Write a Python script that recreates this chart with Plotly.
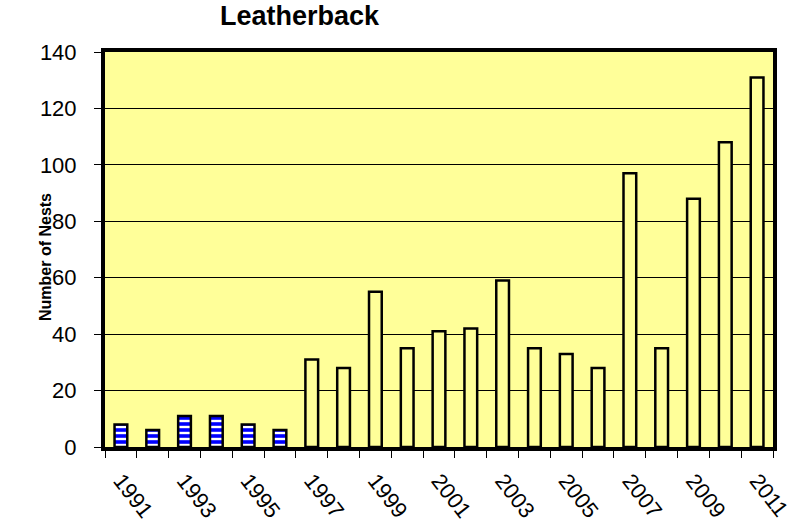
import plotly.graph_objects as go

years = list(range(1991, 2012))
nests = [8, 6, 11, 11, 8, 6, 31, 28, 55, 35, 41, 42, 59, 35, 33, 28, 97, 35, 88, 108, 131]
striped_years = years[:6]
plain_years = years[6:]
striped_vals = nests[:6]
plain_vals = nests[6:]
label_years = list(range(1991, 2012, 2))
y_ticks = [0, 20, 40, 60, 80, 100, 120, 140]

FONT = "Arial, Liberation Sans, sans-serif"

fig = go.Figure()
fig.add_trace(go.Bar(
    x=striped_years, y=striped_vals, width=0.4,
    marker=dict(color="#0000ff", line=dict(color="black", width=2.5),
                pattern=dict(shape="-", fillmode="overlay", fgcolor="#ffffff", fgopacity=1,
                             size=6, solidity=0.4)),
    showlegend=False,
))
fig.add_trace(go.Bar(
    x=plain_years, y=plain_vals, width=0.4,
    marker=dict(color="#ffff99", line=dict(color="black", width=2.5)),
    showlegend=False,
))

fig.update_layout(
    width=797, height=528,
    margin=dict(l=105, r=24, t=52, b=81),
    paper_bgcolor="white", plot_bgcolor="#ffff99",
    font=dict(family=FONT, color="black"),
)
fig.add_annotation(text="<b>Leatherback</b>", x=(300 - 105) / 668, y=1.0, xref="paper", yref="paper",
                   xanchor="center", yanchor="bottom", yshift=19, showarrow=False,
                   font=dict(size=27, family=FONT))
fig.add_annotation(text="<b>Number of Nests</b>", x=(45 - 105) / 668, y=(447 - 257) / 395,
                   xref="paper", yref="paper", xanchor="center", yanchor="middle",
                   textangle=-90, showarrow=False, font=dict(size=16, family=FONT))

fig.update_xaxes(
    range=[1990.5, 2011.5], tickvals=label_years, ticktext=[str(y) for y in label_years],
    tickangle=52, ticks="", tickfont=dict(size=22, family=FONT), automargin=False,
    ticklabelstandoff=8,
    showgrid=False, zeroline=False,
    showline=True, linecolor="black", linewidth=4, mirror=True,
    minor=dict(tickvals=[y - 0.5 for y in years] + [2011.5], ticks="outside", ticklen=7,
               tickcolor="black", tickwidth=1, showgrid=False),
)
fig.update_yaxes(
    range=[0, 140], tickvals=y_ticks, ticks="outside", ticklen=7, tickcolor="black",
    tickfont=dict(size=22, family=FONT), automargin=False, ticklabelstandoff=13,
    showgrid=True, gridcolor="black", gridwidth=1, zeroline=False,
    showline=True, linecolor="black", linewidth=4, mirror=True,
)

fig.write_html("out.html", config={"displayModeBar": False},
               post_script="document.body.style.margin='0';document.body.style.padding='0';")
